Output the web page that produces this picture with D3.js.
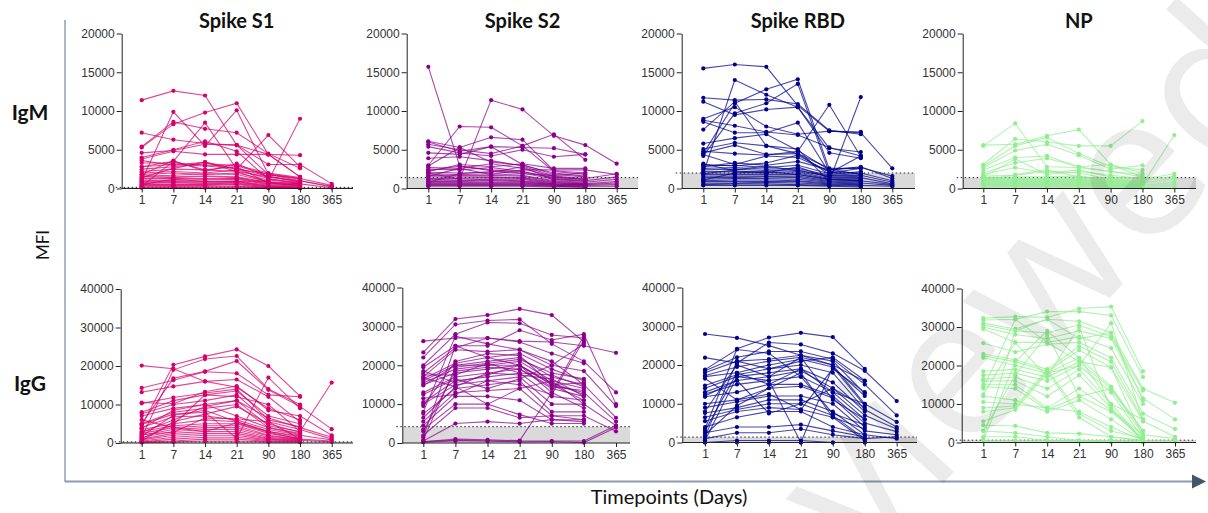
<!DOCTYPE html>
<html><head><meta charset="utf-8">
<script src="https://cdn.jsdelivr.net/npm/d3@7"></script>
<style>body{margin:0;background:#fff}svg{display:block}</style>
</head><body>
<svg id="c" width="1208" height="513"></svg>
<script>
// ---------- data ----------
const days = ["1","7","14","21","90","180","365"];
const antigens = ["Spike S1","Spike S2","Spike RBD","NP"];
const isotypes = ["IgM","IgG"];
const igmTicks = [0,5000,10000,15000,20000];
const iggTicks = [0,10000,20000,30000,40000];
const antigenColors = ["#d4006b","#8b008b","#00008b","#90ee90"];
const igmThreshold = [150,1400,2000,1400];
const iggThreshold = [300,4200,1400,600];

// each row = one subject, values MFI at days 1,7,14,21,90,180,365 (null = not sampled)
const s1IgM = [
[11400,12600,12000,5600,1800,1200,null],[7200,6300,5800,5600,4400,4300,null],[5300,8300,9800,11000,4400,1500,null],
[1000,9900,5500,10100,1800,1300,null],[5400,8600,7700,7200,4500,2600,null],[4600,4900,5700,5600,3100,3100,600],
[4000,5000,6100,4800,1200,800,null],[3800,4800,4400,4400,4400,1500,null],[300,3500,8500,2500,6900,2800,null],
[500,1200,900,900,1000,9000,null],[3300,3300,3000,2900,1800,1000,300],[2800,3100,2900,2600,1600,800,null],
[2500,2800,3200,3000,2000,1400,null],[2200,2500,2400,2200,1500,1000,200],[2000,2200,2000,2400,1300,600,null],
[1800,2000,1800,2000,1100,700,null],[1600,1700,1900,1800,900,600,100],[1500,1500,1600,1500,800,400,null],
[1300,1400,1300,1400,700,300,null],[1200,1300,1200,1300,600,500,null],[1000,1100,1100,1200,500,300,null],
[900,1000,900,1000,400,200,null],[800,900,800,900,300,200,null],[700,800,700,800,300,100,null],
[600,600,600,700,200,100,null],[500,500,500,600,200,100,null],[400,400,400,500,100,100,null],
[300,300,300,300,100,50,null],[200,200,200,200,100,50,null],[100,150,100,100,50,50,null],
[2800,3500,2400,2800,700,400,null],[3600,3000,3400,2500,1900,1300,400],[1800,3600,2200,3200,1500,900,null],
[1400,2600,3400,2200,800,600,null]
];
const s2IgM = [
[15700,2900,2400,2200,1400,1200,null],[2000,1200,11400,10200,6800,5600,3200],[3000,8000,7900,5500,2200,1800,null],
[6100,5300,6600,6300,2300,2000,null],[6000,4800,5400,5300,5200,4400,null],[5700,5000,4500,5500,7000,3700,null],
[5400,4600,4200,5000,4100,4400,null],[4600,4400,5400,3100,1800,1500,null],[3900,4100,3600,2900,1600,1300,1900],
[2900,5300,3400,3000,2000,1600,null],[2700,2600,3200,2600,1500,1200,null],[2500,2400,2700,2200,1300,1000,1500],
[2300,2900,2300,2000,1200,900,null],[2100,2000,2100,2800,1100,1100,null],[1900,1800,1900,1700,1000,800,1200],
[1700,1700,1700,1600,900,700,null],[1500,1500,1500,1400,800,600,900],[1300,1300,1400,1300,700,600,null],
[1200,1100,1200,1200,600,500,700],[1000,1000,1100,1000,600,500,null],[900,900,1000,900,500,400,500],
[800,800,800,800,500,400,null],[700,700,700,700,400,300,null],[600,600,600,600,400,300,300],
[500,500,500,500,300,200,null],[400,400,400,400,300,200,null],[300,300,300,300,200,200,null],
[2200,3100,2800,3200,2600,2600,null],[1600,2600,1800,2400,2400,2400,1800],[800,1900,2200,1900,1700,2000,null]
];
const rbdIgM = [
[15500,16000,15700,10700,7400,7300,null],[2000,14000,12100,10500,5200,4700,null],[4500,11000,12800,14100,2500,1800,null],
[4200,9700,11000,13500,2000,2600,null],[11700,11400,11500,10900,7500,7000,null],[11200,9500,10200,10500,4600,3900,null],
[9000,10500,8000,7000,7400,7200,2600],[8800,8100,7300,6900,5300,4200,null],[8600,7200,7200,8500,2000,4200,null],
[7600,11200,5500,5100,900,11800,null],[5800,6500,7000,4900,2400,2700,1600],[5100,5900,5500,4500,1800,2200,null],
[4800,4500,4300,4800,10800,4100,null],[4600,5600,4400,4500,2600,2600,null],[4400,3100,4200,4000,2200,2000,1000],
[3100,2900,3300,4300,2100,1900,null],[2900,3000,2700,3000,1900,1700,800],[2600,2700,2500,2600,1700,1500,null],
[2400,2500,2300,2400,1500,1400,600],[2200,2200,2100,2200,1300,1200,null],[2000,2000,2000,2000,1200,1100,null],
[1800,1800,1800,1800,1100,1000,500],[1600,1600,1600,1600,1000,900,null],[1400,1400,1500,1400,900,800,null],
[1200,1300,1300,1200,800,700,400],[1000,1100,1100,1000,700,600,null],[900,900,900,900,600,500,null],
[700,700,800,700,500,400,300],[500,600,600,500,400,300,null],[400,400,400,400,300,200,null],
[2800,3300,3000,3500,2400,2800,1300],[1900,2400,2900,2300,1600,1700,null],[3200,2300,2000,2800,1400,1300,null],
[1100,2000,2200,1800,1200,1000,null]
];
const npIgM = [
[5600,5700,6800,7600,3100,2000,null],[5500,8400,2800,2700,2200,1500,null],[3100,6400,6000,5500,5500,8700,null],
[2900,5500,6600,4500,2800,2400,null],[2700,4900,5700,4300,2500,3000,null],[2400,4000,4200,2800,2200,1800,null],
[2000,3300,3900,2800,3100,1500,null],[1800,2700,2000,2400,1500,1200,1900],[1600,1700,2200,2000,1200,1000,1600],
[1400,1500,1500,1600,1100,900,null],[1300,1300,1300,1400,1000,800,null],[1200,1200,1200,1200,900,700,1300],
[1100,1100,1100,1100,800,600,null],[1000,1000,1000,1000,700,500,6900],[900,900,900,900,600,500,null],
[800,800,800,800,500,400,800],[700,700,700,700,500,400,null],[600,600,600,600,400,300,null],
[500,500,500,500,300,300,500],[400,400,400,400,300,200,null],[300,300,300,300,200,200,null],
[200,200,200,200,200,100,300],[1500,3800,1800,2200,1700,1300,null],[1000,1800,2400,1500,1300,1400,null]
];
const s1IgG = [
[20100,19300,16000,14500,9000,6000,null],[4500,20300,22500,24300,20000,12200,null],[1500,19000,21800,22600,14000,10000,null],
[5000,16800,18600,21300,13800,9500,3600],[14300,16300,18500,18100,12500,12000,null],[13200,14700,16000,16500,12000,5500,null],
[10500,10200,13300,14800,8500,7000,2000],[10300,11800,13000,14000,6000,4200,null],[8000,11000,12500,13500,7000,5000,null],
[7600,10000,11000,12500,5500,3500,1000],[7000,9000,10000,11000,4500,3000,null],[5000,8000,9000,10000,4000,2500,null],
[4800,7500,8000,1200,17000,9000,null],[4000,6800,7000,6000,3500,2000,800],[3500,5000,6000,5500,3000,1500,null],
[3000,4500,5000,5000,2500,1200,null],[2500,4000,4500,4500,2000,1000,500],[2000,3500,4000,4000,1800,900,null],
[1500,3000,3500,3500,1500,800,null],[1000,2500,3000,3000,1200,700,300],[800,2000,2500,2500,1000,600,null],
[500,1500,2000,2000,800,500,null],[300,1000,1500,1500,600,400,null],[200,500,1000,1000,400,300,null],
[100,300,500,500,300,200,null],[1200,4800,12500,12000,10000,3000,15700],[2800,6000,9500,11000,6500,4000,1500],
[600,5500,7500,9500,5000,2800,null],[3800,8500,10000,7000,4000,2200,null],[1800,7200,8500,5500,3000,1800,null],
[6000,4000,3000,5200,2800,1000,null],[2200,2800,6500,6300,5500,1100,null]
];
const s2IgG = [
[26200,27000,27000,26200,26000,25000,23200],[23300,31900,32900,34500,32900,26000,null],[22000,30500,31500,31800,25500,21000,13000],
[20000,28000,31000,30800,27800,27000,null],[19500,25000,25000,29000,26500,28000,10000],[18000,24500,27000,26000,23000,20500,null],
[17000,24000,23500,24000,20000,18500,9500],[16500,20500,22000,23000,19000,16000,null],[16000,20000,21000,22000,17000,15000,6500],
[15500,19000,20000,21000,16000,14000,null],[15000,18000,19000,20000,15000,13000,5500],[13000,17000,18000,19000,14000,12000,null],
[10500,16000,17000,18000,12000,11000,null],[10000,15000,16000,17000,10000,10000,4500],[7500,14000,15000,16000,8000,8000,null],
[5500,13000,13500,14000,7000,7000,3000],[4500,12000,12000,11000,6000,6000,null],[3500,10000,10000,7300,5000,5000,null],
[2000,9000,9000,6500,7000,6000,null],[500,5000,5500,5000,6000,5500,null],[300,1000,800,600,13000,27500,null],
[200,500,500,500,500,500,4500],[800,19500,20500,21500,18000,16500,null],[1500,25000,22000,20000,15500,12500,null],
[3000,18500,19500,19000,14500,13500,null],[16800,14500,18000,17500,16500,12000,null],[14800,20000,20000,20000,15000,15500,null],
[12500,16500,14000,16500,20000,25500,null],[6500,14500,10000,14000,16000,10000,null],[9500,21000,23000,22500,15000,11000,null],
[18500,15500,17500,20000,13000,9000,null],[11500,12500,16000,15000,12500,26500,null],[17500,17500,20500,18000,17500,14500,null],
[400,700,500,300,400,100,4000],[8000,27500,25500,24000,21000,15000,null]
];
const rbdIgG = [
[28000,27000,25000,22500,20000,15800,null],[3500,24200,27100,28300,27200,19000,null],[21900,20500,25800,25300,23000,18500,10700],
[18500,22000,23500,23500,21500,15000,7000],[18000,21000,21500,22500,21000,12600,null],[17300,19500,21000,22000,20000,10000,5300],
[17000,18000,20000,21500,19500,9500,null],[14700,17500,19000,20000,18000,8500,4000],[14000,17000,18000,19000,15500,8000,null],
[13000,16000,17000,18500,14000,7000,3500],[12500,15000,16000,17000,13000,6000,null],[11800,13000,15000,15000,12000,5000,2800],
[10000,11000,14000,14500,11500,4000,null],[9000,10500,12000,12000,10000,3000,2000],[7600,9000,11000,11000,8000,2000,null],
[6500,8500,10000,10000,7000,1000,1500],[5500,8000,9000,8500,6500,500,null],[4000,6500,8000,8000,4000,2000,1000],
[2500,4000,4000,4600,3000,1500,null],[1000,2500,2500,3500,2000,1000,null],[0,500,500,500,0,0,null],
[500,17000,16000,0,19500,12000,null],[1500,21000,19000,21000,22000,16000,null],[3000,18000,15000,19000,13000,10000,null],
[12000,16000,7500,10000,14000,9000,null],[8000,20000,17000,22000,11000,6000,null],[16500,11000,12500,8500,19000,13000,null],
[2000,9500,14000,18000,6500,3500,null],[18800,24000,23000,17000,7500,4500,null],[0,0,0,0,0,0,null]
];
const npIgG = [
[32300,32700,32500,34800,35300,18500,null],[31800,32000,34000,34000,33000,17000,null],[31000,29500,32000,31500,28500,14000,10300],
[30500,29000,28500,30500,27500,13500,null],[30000,28000,27000,29000,27000,11500,6000],[29500,26000,26000,27500,24500,10000,null],
[25800,23500,25500,26000,22000,7500,3500],[23000,21500,19000,25000,21000,6000,null],[22500,21000,18500,24000,19500,5500,1500],
[22000,20000,18000,22000,14500,3000,null],[18500,19000,17000,21000,14000,2000,1000],[17500,18000,16000,20000,13000,1000,null],
[16500,17000,14000,19000,10000,500,500],[16000,16000,12000,17500,9000,500,null],[15000,15000,9000,14000,8500,2000,null],
[14500,14000,8500,12000,8000,1000,null],[12000,11000,8000,11000,6000,500,null],[10500,10000,9000,8000,4000,500,null],
[9000,9500,19000,7500,3000,1000,null],[8000,9000,18500,6500,1500,500,null],[5500,8500,18000,20000,31000,5500,null],
[4500,4300,2500,2300,1500,500,null],[3000,2500,1500,500,500,500,null],[1500,1500,500,500,500,0,null],
[500,500,500,500,0,0,null],[500,21000,29000,22000,10000,6000,null],[1000,29000,32000,27000,28500,11000,null],
[14000,32000,26000,21000,19500,1500,null],[3000,17500,28000,12000,14000,3000,null],[12500,26000,17000,30000,8500,500,null]
];

// ---------- layout ----------
const panelData = [[s1IgM,s2IgM,rbdIgM,npIgM],[s1IgG,s2IgG,rbdIgG,npIgG]];
const layouts = [
  [{ax:121.7,x1:141.7,x2:331.7,xe:353,yt:33.5,yb:188.5},
   {ax:406.7,x1:428.3,x2:616.7,xe:638,yt:33.5,yb:188.5},
   {ax:681.7,x1:703.3,x2:892.3,xe:915,yt:33.5,yb:188.5},
   {ax:962.7,x1:983.3,x2:1174.3,xe:1196,yt:33.5,yb:188.5}],
  [{ax:120.7,x1:141.7,x2:331.7,xe:353,yt:289,yb:443},
   {ax:402.3,x1:423.3,x2:616,xe:630,yt:287.5,yb:443},
   {ax:682.3,x1:705,x2:896.7,xe:917,yt:287.5,yb:442.5},
   {ax:961.7,x1:983.3,x2:1175,xe:1196,yt:288.5,yb:442.5}]
];
const svg = d3.select("#c");
const FONT_T = "Liberation Sans, Arial, sans-serif";
const FONT_L = "Lato, 'Open Sans', sans-serif";

// frame: vertical line and arrow
svg.append("line").attr("x1",65).attr("x2",65).attr("y1",20).attr("y2",482).attr("stroke","#adb6c4").attr("stroke-width",2);
svg.append("line").attr("x1",65).attr("x2",1193).attr("y1",481.5).attr("y2",481.5).attr("stroke","#8e99ab").attr("stroke-width",2);
svg.append("path").attr("d","M1192,474.5L1206,481.5L1192,488.5Z").attr("fill","#44546a");

isotypes.forEach((iso,r)=>{
  const ticks = r===0 ? igmTicks : iggTicks;
  const thrs = r===0 ? igmThreshold : iggThreshold;
  antigens.forEach((ag,c)=>{
    const L = layouts[r][c];
    const data = panelData[r][c];
    const col = antigenColors[c];
    const y = d3.scaleLinear().domain([ticks[0], ticks[ticks.length-1]]).range([L.yb, L.yt]);
    const x = d3.scalePoint().domain(days).range([L.x1, L.x2]);
    const g = svg.append("g");
    const thr = thrs[c];
    g.append("rect").attr("x",L.ax).attr("y",y(thr)).attr("width",L.xe-L.ax).attr("height",y(0)-y(thr)).attr("fill","#dadada");
    g.append("line").attr("x1",L.ax-6).attr("x2",L.xe).attr("y1",y(thr)).attr("y2",y(thr))
      .attr("stroke","#222").attr("stroke-width",1).attr("stroke-dasharray","1.5,2.5");
    const line = d3.line().defined(v=>v!=null).x((v,i)=>x(days[i])).y(v=>y(v));
    g.append("g").selectAll("path").data(data).join("path").attr("d",line)
      .attr("fill","none").attr("stroke",col).attr("stroke-width",1.1).attr("stroke-opacity",0.72);
    const pts = [];
    data.forEach(s=>s.forEach((v,i)=>{ if(v!=null) pts.push([days[i],v]); }));
    g.append("g").selectAll("circle").data(pts).join("circle")
      .attr("cx",d=>x(d[0])).attr("cy",d=>y(d[1])).attr("r",2.1).attr("fill",col);
    // axes
    const ya = g.append("g").attr("transform",`translate(${L.ax},0)`)
      .call(d3.axisLeft(y).tickValues(ticks).tickSize(5).tickSizeOuter(0).tickPadding(2).tickFormat(d3.format("d")));
    ya.select(".domain").attr("stroke","#222");
    ya.selectAll(".tick line").attr("stroke","#222");
    ya.selectAll("text").attr("font-family",FONT_T).attr("font-size",12).attr("fill","#333");
    const xa = g.append("g").attr("transform",`translate(0,${L.yb})`)
      .call(d3.axisBottom(x).tickSize(4).tickSizeOuter(0).tickPadding(3));
    xa.select(".domain").remove();
    xa.selectAll(".tick line").attr("stroke","#222");
    xa.selectAll("text").attr("font-family",FONT_T).attr("font-size",12).attr("fill","#333");
    g.append("line").attr("x1",L.ax).attr("x2",L.xe).attr("y1",L.yb).attr("y2",L.yb).attr("stroke","#222");
    if(r===0){
      svg.append("text").attr("x",(L.x1+L.x2)/2).attr("y",28).attr("text-anchor","middle")
        .attr("font-family",FONT_L).attr("font-weight","bold").attr("font-size",20).attr("fill","#111").text(ag);
    }
  });
});
// row labels
svg.append("text").attr("x",30).attr("y",120).attr("text-anchor","middle").attr("font-family",FONT_L)
  .attr("font-weight","bold").attr("font-size",21).attr("fill","#111").text(isotypes[0]);
svg.append("text").attr("x",30).attr("y",391).attr("text-anchor","middle").attr("font-family",FONT_L)
  .attr("font-weight","bold").attr("font-size",21).attr("fill","#111").text(isotypes[1]);
svg.append("text").attr("transform","translate(49,245) rotate(-90)").attr("text-anchor","middle")
  .attr("font-family",FONT_L).attr("font-size",17).attr("fill","#111").text("MFI");
svg.append("text").attr("x",669).attr("y",504).attr("text-anchor","middle").attr("font-family",FONT_L)
  .attr("font-size",20).attr("fill","#111").text("Timepoints (Days)");
// watermark
svg.append("text").attr("transform","translate(735,715) rotate(-48)")
  .attr("font-family","'Open Sans', sans-serif").attr("font-size",200).attr("fill","#000").attr("fill-opacity",0.08)
  .text("reviewed");
</script>
</body></html>
